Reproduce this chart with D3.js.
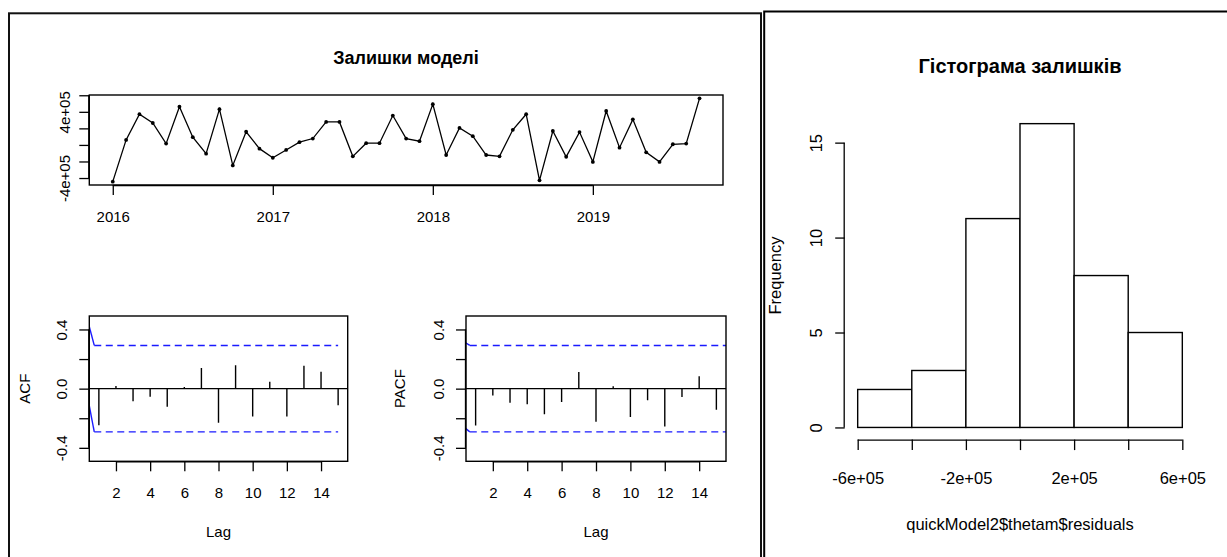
<!DOCTYPE html>
<html>
<head>
<meta charset="utf-8">
<script src="https://cdn.jsdelivr.net/npm/d3@7"></script>
<style>
  body { margin: 0; background: #fff; }
  svg { display: block; font-family: "Liberation Sans", Arial, sans-serif; }
</style>
</head>
<body>
<svg id="chart" width="1227" height="557"></svg>
<script>
// ---- data -------------------------------------------------------------
const startYear = 2016;            // monthly series starting January 2016
const residuals = [
  -444000,   61000,  371000,  265000,   16000,  461000,   94000, -106000,  432000, -248000,  159000,  -45000,
  -155000,  -61000,   33000,   77000,  278000,  278000, -138000,   21000,   21000,  355000,   77000,   45000,
   493000, -122000,  205000,  106000, -122000, -138000,  183000,  371000, -428000,  168000, -143000,  155000,
  -205000,  410000,  -33000,  309000,  -89000, -205000,    8000,   16000,  563000
];
const yearTicks = [2016, 2017, 2018, 2019];
const tsYTicks = [-4e5, -2e5, 0, 2e5, 4e5, 6e5];
const tsYLabels = ["-4e+05", "", "", "", "4e+05", ""];

const lags = [1, 2, 3, 4, 5, 6, 7, 8, 9, 10, 11, 12, 13, 14, 15];
const acfValues  = [-0.248, 0.018, -0.086, -0.054, -0.122, 0.011, 0.140, -0.230, 0.158, -0.189, 0.047, -0.189, 0.155, 0.115, -0.113];
const pacfValues = [-0.249, -0.047, -0.096, -0.105, -0.173, -0.090, 0.112, -0.224, 0.016, -0.191, -0.078, -0.256, -0.056, 0.083, -0.143];
const ciLevel = 0.292;
// short solid lead-in segments of the confidence bounds (lag, value)
const acfCiLeadUpper  = [[0.44, 0.419], [0.73, ciLevel]];
const acfCiLeadLower  = [[0.44, -0.117], [0.73, -ciLevel]];
const pacfCiLeadUpper = [[0.38, 0.313], [0.66, ciLevel]];
const pacfCiLeadLower = [[0.38, -0.265], [0.66, -ciLevel]];
const corTicks = [-0.4, -0.2, 0, 0.2, 0.4];
const corLabels = ["-0.4", "", "0.0", "", "0.4"];
const lagTicks = [2, 4, 6, 8, 10, 12, 14];

const histBreaks = [-6e5, -4e5, -2e5, 0, 2e5, 4e5, 6e5];
const histXLabels = ["-6e+05", "", "-2e+05", "", "2e+05", "", "6e+05"];
const histYTicks = [0, 5, 10, 15];

// ---- helpers ----------------------------------------------------------
const svg = d3.select("#chart");
svg.append("rect").attr("width", 1227).attr("height", 557).attr("fill", "#fff");

// axis range padded by 4% on each side, as base R graphics does
function padded(lo, hi) { const d = (hi - lo) * 0.04; return [lo - d, hi + d]; }

function bottomAxis(scale, ticks, labels, y, tickLen, baselineOffset, fontSize) {
  const g = svg.append("g").attr("transform", `translate(0,${y})`)
    .call(d3.axisBottom(scale).tickValues(ticks).tickSize(tickLen).tickSizeOuter(0)
      .tickFormat((d, i) => labels[i]));
  g.attr("font-size", null).attr("font-family", null);
  g.select(".domain").attr("d", `M${scale(ticks[0])},0.5H${scale(ticks[ticks.length - 1])}`)
    .attr("stroke", "#000").attr("stroke-width", 1.3);
  g.selectAll(".tick line").attr("stroke", "#000").attr("stroke-width", 1.3);
  g.selectAll(".tick text").attr("y", baselineOffset).attr("dy", 0)
    .attr("fill", "#000").style("font-size", fontSize + "px");
  return g;
}

function leftAxis(scale, ticks, labels, x, tickLen, baselineOffset, fontSize) {
  const g = svg.append("g").attr("transform", `translate(${x},0)`)
    .call(d3.axisLeft(scale).tickValues(ticks).tickSize(tickLen).tickSizeOuter(0)
      .tickFormat((d, i) => labels[i]));
  g.attr("font-size", null).attr("font-family", null);
  g.select(".domain").attr("d", `M-0.5,${scale(ticks[0])}V${scale(ticks[ticks.length - 1])}`)
    .attr("stroke", "#000").attr("stroke-width", 1.3);
  g.selectAll(".tick line").attr("stroke", "#000").attr("stroke-width", 1.3);
  g.selectAll(".tick text").attr("transform", "rotate(-90)")
    .attr("x", 0).attr("y", -baselineOffset).attr("dy", 0)
    .attr("text-anchor", "middle").attr("fill", "#000").style("font-size", fontSize + "px");
  return g;
}

function label(text, x, y, size, opts = {}) {
  const t = svg.append("text").attr("x", x).attr("y", y).attr("text-anchor", "middle")
    .attr("fill", "#000").style("font-size", size + "px").text(text);
  if (opts.bold) t.attr("font-weight", "bold");
  if (opts.rotate) t.attr("transform", `rotate(-90,${x},${y})`);
  return t;
}

function box(x0, y0, x1, y1) {
  svg.append("rect").attr("x", x0).attr("y", y0).attr("width", x1 - x0).attr("height", y1 - y0)
    .attr("fill", "none").attr("stroke", "#000").attr("stroke-width", 1.4);
}

// ---- panel frames -----------------------------------------------------
svg.append("rect").attr("x", 9).attr("y", 13.3).attr("width", 752).attr("height", 600)
  .attr("fill", "none").attr("stroke", "#111").attr("stroke-width", 2);
svg.append("rect").attr("x", 764.2).attr("y", 11.5).attr("width", 600).attr("height", 600)
  .attr("fill", "none").attr("stroke", "#000").attr("stroke-width", 2);

const leftFont = 15;
const rightFont = 16.5;

// ---- residual time series ---------------------------------------------
const tsTime = residuals.map((_, i) => startYear + i / 12);
const tsX = d3.scaleLinear().domain(padded(tsTime[0], tsTime[tsTime.length - 1])).range([89.3, 723]);
const tsY = d3.scaleLinear().domain(padded(d3.min(residuals), d3.max(residuals))).range([185, 95]);

svg.append("path")
  .datum(residuals)
  .attr("fill", "none").attr("stroke", "#000").attr("stroke-width", 1.3)
  .attr("d", d3.line().x((d, i) => tsX(tsTime[i])).y(d => tsY(d)));
svg.append("g").selectAll("circle").data(residuals).join("circle")
  .attr("cx", (d, i) => tsX(tsTime[i])).attr("cy", d => tsY(d)).attr("r", 1.9).attr("fill", "#000");

box(89.3, 95, 723, 185);
bottomAxis(tsX, yearTicks, yearTicks.map(String), 185, 10, 37, leftFont);
leftAxis(tsY, tsYTicks, tsYLabels, 89.3, 10, 19.5, leftFont);
label("Залишки моделі", 406, 63.5, 18, { bold: true });

// ---- ACF / PACF -------------------------------------------------------
function correlogram(values, x0, x1, yLabel, leadUpper, leadLower, ciEnd, yLabelX) {
  const x = d3.scaleLinear().domain(padded(lags[0], lags[lags.length - 1])).range([x0, x1]);
  const y = d3.scaleLinear().domain([-0.491, 0.491]).range([461.3, 316]);
  const clipId = "clip-" + yLabel;
  svg.append("clipPath").attr("id", clipId).append("rect")
    .attr("x", x0).attr("y", 316).attr("width", x1 - x0).attr("height", 461.3 - 316);
  const plot = svg.append("g").attr("clip-path", `url(#${clipId})`);

  plot.append("line").attr("x1", x0).attr("x2", x1).attr("y1", y(0)).attr("y2", y(0))
    .attr("stroke", "#000").attr("stroke-width", 1.3);
  plot.selectAll("line.spike").data(values).join("line").attr("class", "spike")
    .attr("x1", (d, i) => x(lags[i])).attr("x2", (d, i) => x(lags[i]))
    .attr("y1", y(0)).attr("y2", d => y(d))
    .attr("stroke", "#000").attr("stroke-width", 1.4);

  const line = d3.line().x(d => x(d[0])).y(d => y(d[1]));
  [leadUpper, leadLower].forEach(lead => {
    plot.append("path").attr("d", line(lead)).attr("fill", "none")
      .attr("stroke", "#1a1aff").attr("stroke-width", 1.4);
    const startLag = lead[lead.length - 1][0];
    const level = lead[lead.length - 1][1];
    plot.append("path").attr("d", line([[startLag, level], [ciEnd, level]])).attr("fill", "none")
      .attr("stroke", "#1a1aff").attr("stroke-width", 1.4).attr("stroke-dasharray", "7,4.5");
  });

  box(x0, 316, x1, 461.3);
  bottomAxis(x, lagTicks, lagTicks.map(String), 461.3, 10, 37, leftFont);
  leftAxis(y, corTicks, corLabels, x0, 10, 22.5, leftFont);
  label("Lag", (x0 + x1) / 2, 537, leftFont);
  label(yLabel, yLabelX, (316 + 461.3) / 2, leftFont, { rotate: true });
}

correlogram(acfValues, 89.3, 347.7, "ACF", acfCiLeadUpper, acfCiLeadLower, 15, 30);
correlogram(pacfValues, 466, 726, "PACF", pacfCiLeadUpper, pacfCiLeadLower, 15.6, 405);

// ---- histogram of residuals -------------------------------------------
const hX = d3.scaleLinear().domain(padded(histBreaks[0], histBreaks[histBreaks.length - 1])).range([844.7, 1195.3]);
const bins = d3.bin()
  .domain([histBreaks[0], histBreaks[histBreaks.length - 1]])
  .thresholds(histBreaks.slice(1, -1))(residuals);
const hY = d3.scaleLinear().domain(padded(0, d3.max(bins, b => b.length))).range([439.6, 111.5]);

svg.append("g").selectAll("rect").data(bins).join("rect")
  .attr("x", b => hX(b.x0)).attr("width", b => hX(b.x1) - hX(b.x0))
  .attr("y", b => hY(b.length)).attr("height", b => hY(0) - hY(b.length))
  .attr("fill", "#fff").attr("stroke", "#000").attr("stroke-width", 1.4);

bottomAxis(hX, histBreaks, histXLabels, 439.6, 10.5, 44, rightFont);
leftAxis(hY, histYTicks, histYTicks.map(String), 844.7, 9.5, 22.3, rightFont);
label("Гістограма залишків", 1020, 73, 20, { bold: true });
label("quickModel2$thetam$residuals", 1020, 530, rightFont);
label("Frequency", 781, 275.5, rightFont, { rotate: true });
</script>
</body>
</html>
